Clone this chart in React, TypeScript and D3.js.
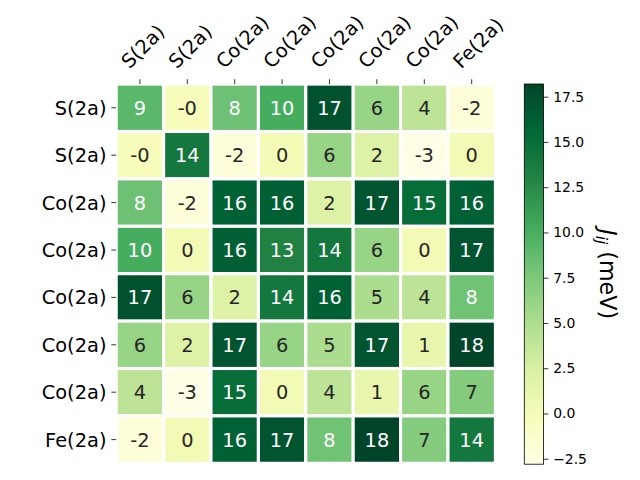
import React, { useEffect, useRef } from "react";
import * as d3 from "d3";

// site labels (rows and columns share them)
const sites = ["S(2a)", "S(2a)", "Co(2a)", "Co(2a)", "Co(2a)", "Co(2a)", "Co(2a)", "Fe(2a)"];

// exchange couplings J_ij in meV
const row0 = [9.1, -0.3, 8.2, 10.1, 17.2, 6.1, 4.1, -2.1];
const row1 = [-0.3, 14.1, -2.1, 0.2, 6.1, 2.1, -2.8, 0.2];
const row2 = [8.2, -2.1, 16.1, 16.2, 2.1, 17.1, 15.1, 16.1];
const row3 = [10.1, 0.2, 16.2, 13.2, 14.1, 6.1, 0.2, 17.1];
const row4 = [17.2, 6.1, 2.1, 14.1, 16.1, 5.1, 4.1, 8.1];
const row5 = [6.1, 2.1, 17.1, 6.1, 5.1, 17.1, 1.1, 18.2];
const row6 = [4.1, -2.8, 15.1, 0.2, 4.1, 1.1, 6.1, 7.1];
const row7 = [-2.1, 0.2, 16.1, 17.1, 8.1, 18.2, 7.1, 14.1];
const jij = [row0, row1, row2, row3, row4, row5, row6, row7];

const cbarTicks = [-2.5, 0, 2.5, 5, 7.5, 10, 12.5, 15, 17.5];

// matplotlib YlGn anchors
const ylgn = ["#ffffe5", "#f7fcb9", "#d9f0a3", "#addd8e", "#78c679", "#41ab5d", "#238443", "#006837", "#004529"];

const FONT = "DejaVu Sans, sans-serif";

const fmtAnnot = (v: number) => {
  const r = Math.round(Math.abs(v));
  return (v < 0 ? "-" : "") + r;
};

const App: React.FC = () => {
  const ref = useRef<SVGSVGElement>(null);

  useEffect(() => {
    const svg = d3.select(ref.current);
    svg.selectAll("*").remove();

    const left = 116.2;
    const top = 84.1;
    const size = 379.2;
    const tick = 4.86;
    const pad = 4.86;

    const all = jij.flat();
    const vmin = d3.min(all) as number;
    const vmax = d3.max(all) as number;
    const mid = (vmin + vmax) / 2;

    const color = d3
      .scaleLinear<string>()
      .domain(d3.range(ylgn.length).map((i) => vmin + (i / (ylgn.length - 1)) * (vmax - vmin)))
      .range(ylgn)
      .interpolate(d3.interpolateRgb);

    const x = d3.scaleBand<number>().domain(d3.range(sites.length)).range([left, left + size]);
    const y = d3.scaleBand<number>().domain(d3.range(sites.length)).range([top, top + size]);

    // cells
    const g = svg.append("g");
    jij.forEach((row, i) => {
      row.forEach((v, j) => {
        g.append("rect")
          .attr("x", x(j)!)
          .attr("y", y(i)!)
          .attr("width", x.bandwidth())
          .attr("height", y.bandwidth())
          .attr("fill", color(v))
          .attr("stroke", "white")
          .attr("stroke-width", 3.1);
        g.append("text")
          .attr("x", x(j)! + x.bandwidth() / 2)
          .attr("y", y(i)! + y.bandwidth() / 2)
          .attr("dy", "0.36em")
          .attr("text-anchor", "middle")
          .attr("font-family", FONT)
          .attr("font-size", 19.4)
          .attr("fill", v > mid ? "white" : "#262626")
          .text(fmtAnnot(v));
      });
    });

    // left ticks + labels
    sites.forEach((s, i) => {
      const cy = y(i)! + y.bandwidth() / 2;
      svg.append("line")
        .attr("x1", left - tick).attr("x2", left)
        .attr("y1", cy).attr("y2", cy)
        .attr("stroke", "black").attr("stroke-width", 0.8);
      svg.append("text")
        .attr("x", left - tick - pad)
        .attr("y", cy)
        .attr("dy", "0.36em")
        .attr("text-anchor", "end")
        .attr("font-family", FONT)
        .attr("font-size", 19.4)
        .text(s);
    });

    // top ticks + rotated labels
    sites.forEach((s, j) => {
      const cx = x(j)! + x.bandwidth() / 2;
      svg.append("line")
        .attr("x1", cx).attr("x2", cx)
        .attr("y1", top - tick).attr("y2", top)
        .attr("stroke", "black").attr("stroke-width", 0.8);
      svg.append("text")
        .attr("font-family", FONT)
        .attr("font-size", 19.4)
        .attr("transform", `translate(${cx - 10.5},69.5) rotate(-45)`)
        .text(s);
    });

    // colorbar
    const cbX = 524.3;
    const cbW = 19.2;
    const cbTop = 84;
    const cbBot = 464.2;
    const cy = d3.scaleLinear().domain([vmin, vmax]).range([cbBot, cbTop]);

    const grad = svg.append("defs").append("linearGradient")
      .attr("id", "cbgrad")
      .attr("x1", 0).attr("y1", 1).attr("x2", 0).attr("y2", 0);
    d3.range(0, 1.0001, 0.02).forEach((f) => {
      grad.append("stop")
        .attr("offset", f)
        .attr("stop-color", color(vmin + f * (vmax - vmin)));
    });
    svg.append("rect")
      .attr("x", cbX).attr("y", cbTop)
      .attr("width", cbW).attr("height", cbBot - cbTop)
      .attr("fill", "url(#cbgrad)")
      .attr("stroke", "black").attr("stroke-width", 0.8);

    const axis = svg.append("g")
      .attr("transform", `translate(${cbX + cbW},0)`)
      .call(
        d3.axisRight(cy)
          .tickValues(cbarTicks)
          .tickSize(tick)
          .tickPadding(pad)
          .tickFormat((v) => d3.format(".1f")(+v))
      );
    axis.select(".domain").remove();
    axis.selectAll("line").attr("stroke-width", 0.8);
    axis.selectAll("text")
      .attr("font-family", FONT)
      .attr("font-size", 13.9)
      .attr("fill", "black");

    // colorbar label, rotated 270 in matplotlib terms
    const lab = svg.append("text")
      .attr("transform", `translate(600,${(cbTop + cbBot) / 2}) rotate(90)`)
      .attr("text-anchor", "middle")
      .attr("font-family", FONT)
      .attr("font-size", 22.2);
    lab.append("tspan").attr("font-style", "italic").text("J");
    lab.append("tspan").attr("font-style", "italic").attr("font-size", 15.5).attr("dy", 4).text("ij");
    lab.append("tspan").attr("dy", -4).text("\u00a0(meV)");
  }, []);

  return <svg ref={ref} width={640} height={480} style={{ display: "block", margin: "-8px" }} />;
};

export default App;
